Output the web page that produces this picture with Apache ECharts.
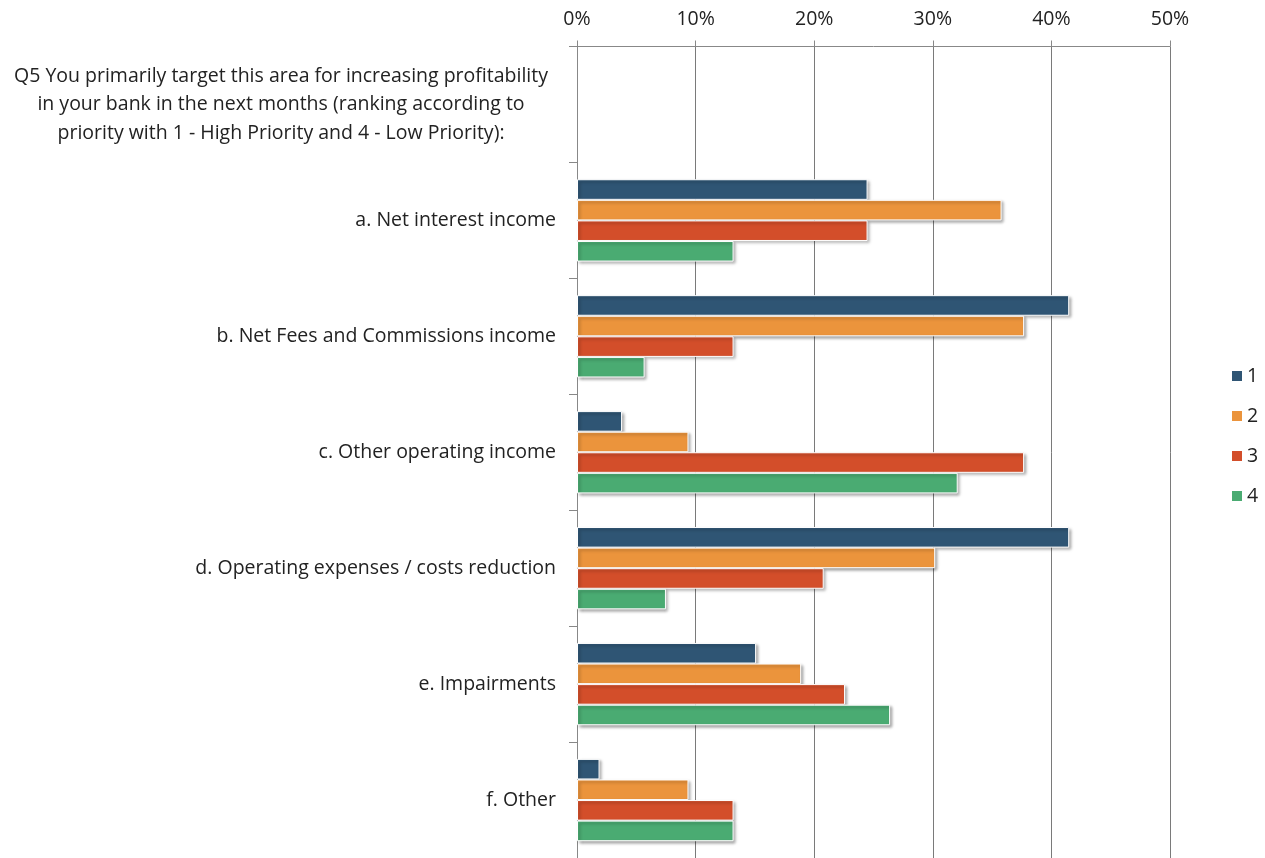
<!DOCTYPE html>
<html>
<head>
<meta charset="utf-8">
<title>Q5 Profitability priorities</title>
<script src="https://cdn.jsdelivr.net/npm/echarts@6/dist/echarts.min.js"></script>
<style>
  html, body { margin: 0; padding: 0; background: #ffffff; }
  #chart { width: 1265px; height: 858px; }
</style>
</head>
<body>
<div id="chart"></div>
<script>
// Question heading shown as the first (empty) category row
const question = 'Q5 You primarily target this area for increasing profitability\nin your bank in the next months (ranking according to\npriority with 1 - High Priority and 4 - Low Priority):';

const categories = [
  question,
  'a. Net interest income',
  'b. Net Fees and Commissions income',
  'c. Other operating income',
  'd. Operating expenses / costs reduction',
  'e. Impairments',
  'f. Other'
];

const seriesNames = ['1', '2', '3', '4'];

// Share of respondents (%) per priority rank; first row is the heading
const rank1 = [null, 24.5, 41.5, 3.8, 41.5, 15.1, 1.9];
const rank2 = [null, 35.8, 37.7, 9.4, 30.2, 18.9, 9.4];
const rank3 = [null, 24.5, 13.2, 37.7, 20.8, 22.6, 13.2];
const rank4 = [null, 13.2, 5.7, 32.1, 7.5, 26.4, 13.2];

const xTicks = [0, 10, 20, 30, 40, 50];

const colors = ['#2f5574', '#eb943c', '#d34e2a', '#4aab72'];
const fontFamily = '"Open Sans", "Noto Sans", sans-serif';
const fontSize = 19.5;

const chart = echarts.init(document.getElementById('chart'));

const barStyle = (color) => ({
  color: color,
  borderColor: '#ffffff',
  borderWidth: 1,
  shadowColor: 'rgba(0,0,0,0.35)',
  shadowBlur: 3,
  shadowOffsetX: 2,
  shadowOffsetY: 2
});

const allSeries = [rank1, rank2, rank3, rank4].map((vals, i) => ({
  name: seriesNames[i],
  type: 'bar',
  data: vals,
  barGap: '0%',
  barCategoryGap: '29%',
  itemStyle: barStyle(colors[i]),
  emphasis: { disabled: true }
}));

chart.setOption({
  animation: false,
  color: colors,
  textStyle: { fontFamily: fontFamily },
  grid: { left: 577, right: 95, top: 46.5, bottom: -2, containLabel: false },
  legend: {
    orient: 'vertical',
    left: 1227,
    top: 361,
    itemWidth: 10,
    itemHeight: 10,
    itemGap: 20,
    itemStyle: { borderWidth: 0 },
    icon: 'rect',
    data: seriesNames,
    textStyle: { fontSize: fontSize, color: '#222', fontFamily: fontFamily }
  },
  xAxis: {
    type: 'value',
    position: 'top',
    min: xTicks[0],
    max: xTicks[xTicks.length - 1],
    interval: 10,
    axisLine: { show: true, lineStyle: { color: '#888', width: 1 } },
    axisTick: { show: true, length: 6, lineStyle: { color: '#888' } },
    splitLine: { show: true, lineStyle: { color: '#7a7a7a', width: 1 } },
    axisLabel: {
      formatter: '{value}%',
      fontSize: fontSize,
      color: '#222',
      margin: 17,
      fontFamily: fontFamily
    }
  },
  yAxis: {
    type: 'category',
    inverse: true,
    data: categories,
    axisLine: { show: true, lineStyle: { color: '#888', width: 1 } },
    axisTick: { show: true, length: 8, lineStyle: { color: '#888' } },
    axisLabel: {
      fontSize: fontSize,
      color: '#222',
      margin: 21,
      fontFamily: fontFamily,
      formatter: (v, idx) => idx === 0 ? '{q|' + v.split('\n').join('}\n{q|') + '}' : v,
      rich: {
        q: { width: 550, align: 'center', fontSize: fontSize, lineHeight: 28.5, color: '#222', fontFamily: fontFamily }
      }
    }
  },
  series: allSeries
});
</script>
</body>
</html>
